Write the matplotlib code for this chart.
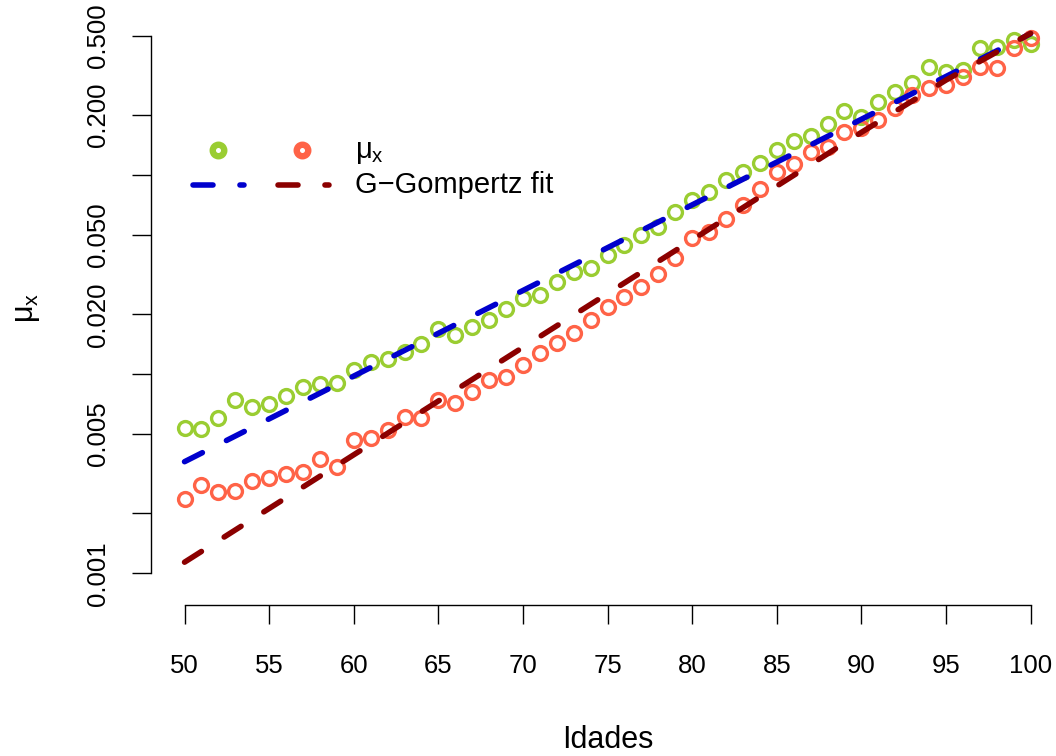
import matplotlib
matplotlib.use('Agg')
import matplotlib.pyplot as plt
from matplotlib.lines import Line2D

# ---------------- data ----------------
ages = list(range(50, 101))
mu_green = [0.00539, 0.00531, 0.00605, 0.00742, 0.00687, 0.00709, 0.00780, 0.00859, 0.00893, 0.00898,
            0.01050, 0.01155, 0.01188, 0.01288, 0.01413, 0.01681, 0.01574, 0.01720, 0.01872, 0.02126,
            0.02406, 0.02499, 0.02915, 0.03272, 0.03403, 0.03969, 0.04456, 0.05002, 0.05456, 0.06550,
            0.07499, 0.08252, 0.09450, 0.1040, 0.1146, 0.1337, 0.1484, 0.1572, 0.1806, 0.2099,
            0.1957, 0.2329, 0.2624, 0.2891, 0.3504, 0.3307, 0.3373, 0.4335, 0.4416, 0.4770, 0.4555]
mu_red = [0.002361, 0.002767, 0.002552, 0.002600, 0.002918, 0.003000, 0.003153, 0.003238, 0.003737, 0.003430,
          0.004673, 0.004782, 0.005245, 0.006116, 0.006004, 0.007377, 0.007143, 0.008168, 0.009352, 0.009714,
          0.01112, 0.01274, 0.01430, 0.01605, 0.01872, 0.02183, 0.02450, 0.02751, 0.03187, 0.03855,
          0.04815, 0.05195, 0.05984, 0.07077, 0.08515, 0.1040, 0.1137, 0.1311, 0.1388, 0.1652,
          0.1718, 0.1892, 0.2166, 0.2526, 0.2729, 0.2835, 0.3120, 0.3504, 0.3439, 0.4335, 0.4865]
fit_ages = [50, 55, 60, 65, 70, 75, 80, 85, 90, 95, 100]
fit_blue = [0.003635, 0.005964, 0.009784, 0.01605, 0.02633, 0.04319, 0.07087, 0.1162, 0.1907, 0.3128, 0.513]
fit_red = [0.001137, 0.002116, 0.003937, 0.007333, 0.01365, 0.02540, 0.04725, 0.08805, 0.1639, 0.3000, 0.515]

yticks = [0.001, 0.002, 0.005, 0.01, 0.02, 0.05, 0.1, 0.2, 0.5]
ytick_labels = ['0.001', '', '0.005', '', '0.020', '0.050', '', '0.200', '0.500']
xticks = [50, 55, 60, 65, 70, 75, 80, 85, 90, 95, 100]
xtick_labels = [str(v) for v in xticks]

legend_labels = [r'$\mu_x$', 'G\u2212Gompertz fit']

# ---------------- style ----------------
plt.rcParams['font.family'] = ['Liberation Sans', 'DejaVu Sans']
plt.rcParams['mathtext.fontset'] = 'custom'
plt.rcParams['mathtext.rm'] = 'Liberation Sans'
plt.rcParams['mathtext.it'] = 'Liberation Sans'
plt.rcParams['mathtext.bf'] = 'Liberation Sans'
plt.rcParams['lines.scale_dashes'] = False

GREEN = '#9ACD32'
SALMON = '#FF6347'
BLUE = '#0000CD'
DRED = '#8B0000'

W, H = 1056, 756
fig = plt.figure(figsize=(W / 100, H / 100), dpi=100)
ax = fig.add_axes([150.7 / W, 151 / H, 913.7 / W, 595 / H])
ax.set_yscale('log')
ax.set_xlim(48, 102)
ax.set_ylim(6.93e-4, 0.6749)

mk = dict(marker='o', linestyle='none', markersize=10.0, markerfacecolor='none',
          markeredgewidth=2.4, zorder=2, clip_on=False)
ax.plot(ages, mu_green, markeredgecolor=GREEN, **mk)
ax.plot(ages, mu_red, markeredgecolor=SALMON, **mk)

dash = (0, (14.4, 19.4))
ln = dict(linewidth=4.0, dash_capstyle='round', zorder=3, clip_on=False)
ax.plot(fit_ages, fit_blue, color=BLUE, linestyle=dash, **ln)
ax.plot(fit_ages, fit_red, color=DRED, linestyle=dash, **ln)

for s in ['top', 'right']:
    ax.spines[s].set_visible(False)
ax.spines['left'].set_bounds(0.001, 0.5)
ax.spines['bottom'].set_bounds(50, 100)
for s in ['left', 'bottom']:
    ax.spines[s].set_linewidth(1.0)

ax.set_yticks(yticks)
ax.set_yticklabels(ytick_labels, rotation=90, va='center')
ax.minorticks_off()
ax.set_xticks(xticks)
ax.set_xticklabels(xtick_labels)
ax.tick_params(axis='both', direction='out', length=14, width=1.0, labelsize=18.5)
ax.tick_params(axis='x', pad=21)
ax.tick_params(axis='y', pad=15)

ax.set_xlabel('Idades', fontsize=22, labelpad=34)
ax.set_ylabel(r'$\mu_x$', fontsize=22, labelpad=32)

# ---------------- legend (drawn manually) ----------------
def fx(x):
    return x / W

def fy(y):
    return 1 - y / H

for xc, col in [(218, GREEN), (302, SALMON)]:
    fig.add_artist(Line2D([fx(xc)], [fy(150)], transform=fig.transFigure, marker='o',
                          markersize=8.3, markerfacecolor='none', markeredgewidth=4.6,
                          markeredgecolor=col, linestyle='none'))
fig.add_artist(Line2D([fx(193), fx(244)], [fy(185), fy(185)], transform=fig.transFigure,
                      color=BLUE, linestyle=dash, linewidth=4.0, dash_capstyle='round'))
fig.add_artist(Line2D([fx(278), fx(329)], [fy(185), fy(185)], transform=fig.transFigure,
                      color=DRED, linestyle=dash, linewidth=4.0, dash_capstyle='round'))
fig.text(fx(355), fy(152), legend_labels[0], fontsize=21, va='center', ha='left')
fig.text(fx(355), fy(185), legend_labels[1], fontsize=21, va='center', ha='left')

fig.savefig('out.png', dpi=100)
